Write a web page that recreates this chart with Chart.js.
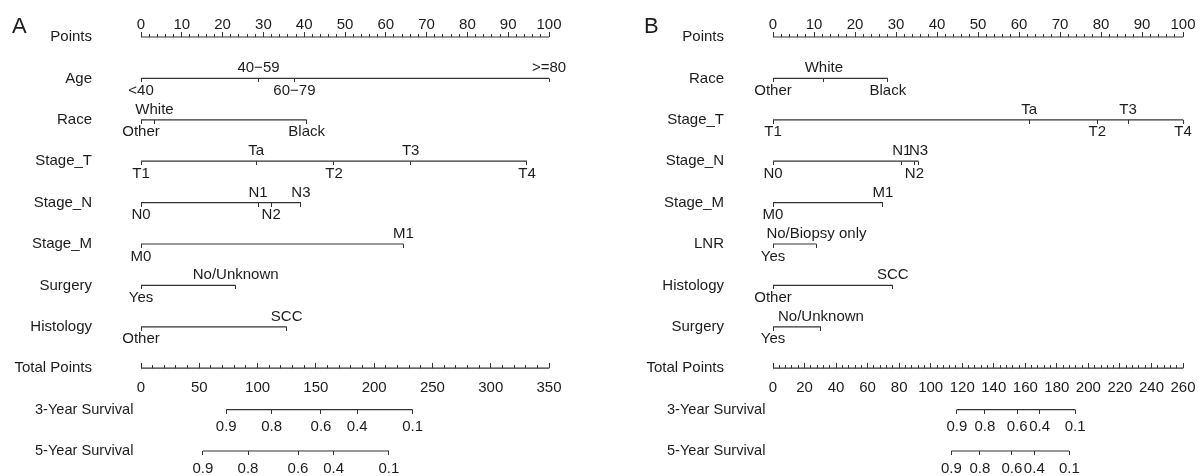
<!DOCTYPE html>
<html>
<head>
<meta charset="utf-8">
<script src="https://cdn.jsdelivr.net/npm/chart.js@4.4.1/dist/chart.umd.min.js"></script>
<style>
  html, body { margin: 0; padding: 0; background: #fff; }
  #wrap { display: flex; width: 1202px; height: 476px; }
  canvas { display: block; }
</style>
</head>
<body>
<div id="wrap">
  <canvas id="chartA" width="601" height="476"></canvas>
  <canvas id="chartB" width="601" height="476"></canvas>
</div>
<script>
// ---- shared axis ticks ----
var pointsMajor = [0, 10, 20, 30, 40, 50, 60, 70, 80, 90, 100];
var pointsMinorStep = 2;
var survLabels = ['0.9', '0.8', '0.6', '0.4', '0.1'];

// ---- panel A ----
var varsA = ['Age', 'Race', 'Stage_T', 'Stage_N', 'Stage_M', 'Surgery', 'Histology'];
var levelsA = [
  ['<40', '40\u221259', '60\u221279', '>=80'],
  ['Other', 'White', 'Black'],
  ['T1', 'Ta', 'T2', 'T3', 'T4'],
  ['N0', 'N1', 'N2', 'N3'],
  ['M0', 'M1'],
  ['Yes', 'No/Unknown'],
  ['Other', 'SCC']
];
var scoresA = [
  [0, 28.8, 37.6, 100],
  [0, 3.3, 40.6],
  [0, 28.2, 47.3, 66.1, 94.6],
  [0, 28.7, 31.9, 39.2],
  [0, 64.3],
  [0, 23.2],
  [0, 35.7]
];
var totalMajorA = [0, 50, 100, 150, 200, 250, 300, 350];
var totalMinorStepA = 10;
var surv3A = [73.1, 112.1, 154.4, 185.5, 233.0];
var surv5A = [53.1, 91.8, 134.7, 165.2, 212.7];

// ---- panel B ----
var varsB = ['Race', 'Stage_T', 'Stage_N', 'Stage_M', 'LNR', 'Histology', 'Surgery'];
var levelsB = [
  ['Other', 'White', 'Black'],
  ['T1', 'Ta', 'T2', 'T3', 'T4'],
  ['N0', 'N1', 'N2', 'N3'],
  ['M0', 'M1'],
  ['Yes', 'No/Biopsy only'],
  ['Other', 'SCC'],
  ['Yes', 'No/Unknown']
];
var scoresB = [
  [0, 12.4, 28.0],
  [0, 62.5, 79.1, 86.6, 100],
  [0, 31.4, 34.5, 35.5],
  [0, 26.8],
  [0, 10.6],
  [0, 29.2],
  [0, 11.7]
];
var totalMajorB = [0, 20, 40, 60, 80, 100, 120, 140, 160, 180, 200, 220, 240, 260];
var totalMinorStepB = 4;
var surv3B = [116.6, 134.4, 154.9, 169.1, 191.6];
var surv5B = [113.1, 131.2, 151.5, 165.7, 187.9];

var FONT = '"Liberation Sans", Arial, Helvetica, sans-serif';
var INK = '#1c1c1c';
var LINE = '#333333';

// small canvases used as point styles: a 1px tick pointing up or down
function tick(len, up) {
  var c = document.createElement('canvas');
  c.width = 1; c.height = len * 2;
  var g = c.getContext('2d');
  g.fillStyle = LINE;
  g.fillRect(0, up ? 0 : len, 1, len);
  return c;
}
var TICK_UP_LONG = tick(5, true), TICK_UP_SHORT = tick(3, true), TICK_DOWN = tick(4, false);

function axisRow(name, major, step, axisId, place, gap) {
  var data = [], text = [];
  var max = major[major.length - 1];
  for (var v = 0; v <= max + 1e-9; v += step) {
    data.push({ x: v, y: 0 });
    var k = major.indexOf(Math.round(v * 100) / 100);
    text.push(k >= 0 ? String(major[k]) : '');
  }
  return { name: name, data: data, text: text, xAxisID: axisId, place: place, gap: gap,
    pointStyle: function(c) { return major.indexOf(Math.round(c.raw.x * 100) / 100) >= 0 ? TICK_UP_LONG : TICK_UP_SHORT; } };
}

function makePanel(id, letter, pad, vars, levels, scores, totalMajor, totalStep, surv3, surv5) {
  var rows = [];
  rows.push(axisRow('Points', pointsMajor, pointsMinorStep, 'x', 'above', 8));
  vars.forEach(function(n, i) {
    rows.push({ name: n, data: scores[i].map(function(s) { return { x: s, y: 0 }; }),
      text: levels[i], xAxisID: 'x', place: 'alt', pointStyle: TICK_DOWN });
  });
  rows.push(axisRow('Total Points', totalMajor, totalStep, 'xt', 'below', 12));
  rows.push({ name: '3-Year Survival', left: true, data: surv3.map(function(s) { return { x: s, y: 0 }; }),
    text: survLabels, xAxisID: 'xt', place: 'below', gap: 10, pointStyle: TICK_DOWN });
  rows.push({ name: '5-Year Survival', left: true, data: surv5.map(function(s) { return { x: s, y: 0 }; }),
    text: survLabels, xAxisID: 'xt', place: 'below', gap: 10, pointStyle: TICK_DOWN });

  var datasets = rows.map(function(r, i) {
    r.data.forEach(function(p) { p.y = i; });
    return {
      label: r.name, data: r.data, xAxisID: r.xAxisID, yAxisID: 'y',
      showLine: true, borderColor: LINE, borderWidth: 1.2, tension: 0,
      pointStyle: r.pointStyle, pointRadius: 3, clip: false,
      text: r.text, place: r.place, gap: r.gap, nameLeft: !!r.left
    };
  });

  var labelPlugin = {
    id: 'nomoText',
    afterDatasetsDraw: function(chart) {
      var ctx = chart.ctx, area = chart.chartArea;
      ctx.save();
      ctx.fillStyle = INK;
      ctx.font = '22px ' + FONT;
      ctx.textAlign = 'left';
      ctx.textBaseline = 'alphabetic';
      ctx.fillText(letter, area.left - 129, area.top - 4);
      chart.data.datasets.forEach(function(ds, i) {
        var pts = chart.getDatasetMeta(i).data;
        var yRow = pts[0].y;
        ctx.textBaseline = 'middle';
        if (ds.nameLeft) {
          ctx.font = '14.6px ' + FONT;
          ctx.textAlign = 'left';
          ctx.fillText(ds.label, area.left - 106, yRow);
        } else {
          ctx.font = '15px ' + FONT;
          ctx.textAlign = 'right';
          ctx.fillText(ds.label, area.left - 49, yRow);
        }
        ctx.font = '15px ' + FONT;
        ctx.textAlign = 'center';
        ds.text.forEach(function(t, j) {
          if (!t) return;
          var p = pts[j];
          var above = ds.place === 'above' || (ds.place === 'alt' && j % 2 === 1);
          if (above) {
            ctx.textBaseline = 'alphabetic';
            ctx.fillText(t, p.x, p.y - (ds.gap || 6));
          } else {
            ctx.textBaseline = 'top';
            ctx.fillText(t, p.x, p.y + (ds.gap || 5));
          }
        });
      });
      ctx.restore();
    }
  };

  return new Chart(document.getElementById(id), {
    type: 'line',
    data: { datasets: datasets },
    options: {
      responsive: false,
      animation: false,
      events: [],
      layout: { padding: pad },
      plugins: { legend: { display: false }, tooltip: { enabled: false } },
      scales: {
        x: { type: 'linear', min: 0, max: 100, display: false },
        xt: { type: 'linear', axis: 'x', min: 0, max: totalMajor[totalMajor.length - 1], display: false },
        y: { type: 'linear', min: 0, max: rows.length - 1, reverse: true, display: false }
      }
    },
    plugins: [labelPlugin]
  });
}

makePanel('chartA', 'A', { left: 141, right: 52, top: 37, bottom: 25 },
  varsA, levelsA, scoresA, totalMajorA, totalMinorStepA, surv3A, surv5A);
makePanel('chartB', 'B', { left: 172, right: 19, top: 37, bottom: 25 },
  varsB, levelsB, scoresB, totalMajorB, totalMinorStepB, surv3B, surv5B);
</script>
</body>
</html>
